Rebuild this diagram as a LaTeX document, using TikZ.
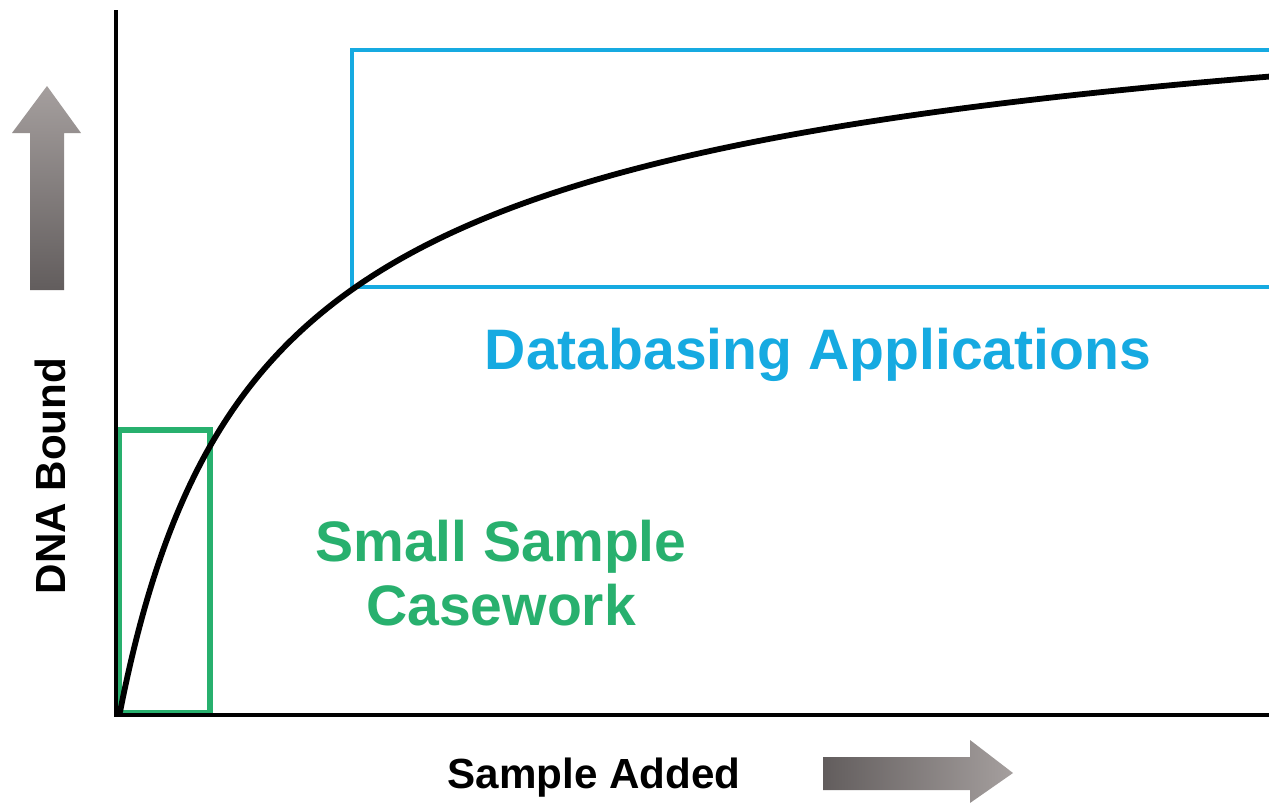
\documentclass[tikz,border=0pt]{standalone}
\usepackage{fontspec}
\setmainfont{Liberation Sans}
\definecolor{dbblue}{RGB}{22,170,225}
\definecolor{ssgreen}{RGB}{40,176,110}
\definecolor{arrowlight}{RGB}{165,159,158}
\definecolor{arrowdark}{RGB}{98,93,93}
\tikzset{
  axisline/.style={line width=2.6pt,black},
  curveline/.style={line width=3.3pt,black,line cap=round},
  greenbox/.style={line width=3.2pt,ssgreen},
  bluebox/.style={line width=2.6pt,dbblue},
  lbl/.style={font=\bfseries\fontsize{24}{28}\selectfont,inner sep=0pt},
  biglbl/.style={font=\bfseries\fontsize{32.5}{38}\selectfont,inner sep=0pt,align=center},
}
\begin{document}
\begin{tikzpicture}[x=0.02cm,y=-0.02cm]
\useasboundingbox (0,0) rectangle (1269,805);
\fill[white] (0,0) rectangle (1269,805);
% gray arrows
\shade[top color=arrowlight,bottom color=arrowdark]
  (30,290) -- (30,133) -- (12,133) -- (47,86) -- (81,133) -- (64,133) -- (64,290) -- cycle;
\shade[left color=arrowdark,right color=arrowlight]
  (823,757) -- (970,757) -- (970,740) -- (1013,773) -- (970,803) -- (970,790) -- (823,790) -- cycle;
% boxes
\draw[greenbox] (119,430) rectangle (210,713);
\clip (0,0) rectangle (1269,805);
\draw[bluebox] (1275,50) -- (352,50) -- (352,287) -- (1275,287);
% curve
\draw[curveline] plot[domain=0:1155,samples=300,smooth]
  ({120+\x},{712-540*(\x/(115+\x))-220*(\x/(600+\x))});
% axes
\coordinate (top) at (116,10);
\coordinate (origin) at (116,715);
\coordinate (right) at (1275,715);
\draw[axisline] (top) -- (origin) -- (right);
% labels
\node[lbl,rotate=90] (ylab) at (50,476) {DNA Bound};
\node[lbl] (xlab) at (594,778) {Sample Added};
\node[biglbl,text=dbblue] (db) at (818,355) {Databasing Applications};
\node[biglbl,text=ssgreen] (ss) at (501,573) {Small Sample\\[-2pt]Casework};
\end{tikzpicture}
\end{document}
